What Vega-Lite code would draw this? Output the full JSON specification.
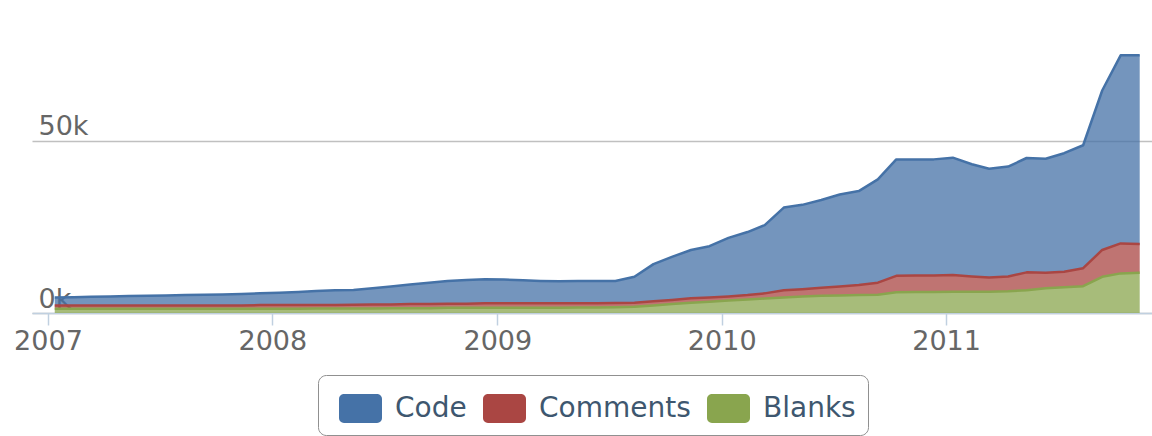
{
  "$schema": "https://vega.github.io/schema/vega-lite/v6.json",
  "width": 1120,
  "height": 310,
  "autosize": {"type": "none"},
  "padding": {"left": 32, "top": 3, "right": 0, "bottom": 123},
  "background": "white",
  "config": {"view": {"stroke": null}, "font": "DejaVu Sans"},
  "data": {"values": [
    {"date":"2007-01-12","series":"Code","lines":2300},{"date":"2007-01-12","series":"Comments","lines":1000},{"date":"2007-01-12","series":"Blanks","lines":1200},
    {"date":"2007-02-12","series":"Code","lines":2400},{"date":"2007-02-12","series":"Comments","lines":1000},{"date":"2007-02-12","series":"Blanks","lines":1200},
    {"date":"2007-03-12","series":"Code","lines":2500},{"date":"2007-03-12","series":"Comments","lines":1000},{"date":"2007-03-12","series":"Blanks","lines":1200},
    {"date":"2007-04-12","series":"Code","lines":2600},{"date":"2007-04-12","series":"Comments","lines":1000},{"date":"2007-04-12","series":"Blanks","lines":1200},
    {"date":"2007-05-12","series":"Code","lines":2700},{"date":"2007-05-12","series":"Comments","lines":1000},{"date":"2007-05-12","series":"Blanks","lines":1200},
    {"date":"2007-06-12","series":"Code","lines":2800},{"date":"2007-06-12","series":"Comments","lines":1000},{"date":"2007-06-12","series":"Blanks","lines":1200},
    {"date":"2007-07-12","series":"Code","lines":2900},{"date":"2007-07-12","series":"Comments","lines":1000},{"date":"2007-07-12","series":"Blanks","lines":1200},
    {"date":"2007-08-12","series":"Code","lines":3000},{"date":"2007-08-12","series":"Comments","lines":1000},{"date":"2007-08-12","series":"Blanks","lines":1200},
    {"date":"2007-09-12","series":"Code","lines":3100},{"date":"2007-09-12","series":"Comments","lines":1000},{"date":"2007-09-12","series":"Blanks","lines":1200},
    {"date":"2007-10-12","series":"Code","lines":3200},{"date":"2007-10-12","series":"Comments","lines":1000},{"date":"2007-10-12","series":"Blanks","lines":1200},
    {"date":"2007-11-12","series":"Code","lines":3300},{"date":"2007-11-12","series":"Comments","lines":1000},{"date":"2007-11-12","series":"Blanks","lines":1200},
    {"date":"2007-12-12","series":"Code","lines":3400},{"date":"2007-12-12","series":"Comments","lines":1100},{"date":"2007-12-12","series":"Blanks","lines":1200},
    {"date":"2008-01-12","series":"Code","lines":3600},{"date":"2008-01-12","series":"Comments","lines":1100},{"date":"2008-01-12","series":"Blanks","lines":1200},
    {"date":"2008-02-12","series":"Code","lines":3800},{"date":"2008-02-12","series":"Comments","lines":1100},{"date":"2008-02-12","series":"Blanks","lines":1200},
    {"date":"2008-03-12","series":"Code","lines":4100},{"date":"2008-03-12","series":"Comments","lines":1000},{"date":"2008-03-12","series":"Blanks","lines":1300},
    {"date":"2008-04-12","series":"Code","lines":4300},{"date":"2008-04-12","series":"Comments","lines":1000},{"date":"2008-04-12","series":"Blanks","lines":1300},
    {"date":"2008-05-12","series":"Code","lines":4300},{"date":"2008-05-12","series":"Comments","lines":1100},{"date":"2008-05-12","series":"Blanks","lines":1300},
    {"date":"2008-06-12","series":"Code","lines":4700},{"date":"2008-06-12","series":"Comments","lines":1200},{"date":"2008-06-12","series":"Blanks","lines":1300},
    {"date":"2008-07-12","series":"Code","lines":5200},{"date":"2008-07-12","series":"Comments","lines":1100},{"date":"2008-07-12","series":"Blanks","lines":1400},
    {"date":"2008-08-12","series":"Code","lines":5700},{"date":"2008-08-12","series":"Comments","lines":1200},{"date":"2008-08-12","series":"Blanks","lines":1400},
    {"date":"2008-09-12","series":"Code","lines":6200},{"date":"2008-09-12","series":"Comments","lines":1200},{"date":"2008-09-12","series":"Blanks","lines":1400},
    {"date":"2008-10-12","series":"Code","lines":6600},{"date":"2008-10-12","series":"Comments","lines":1200},{"date":"2008-10-12","series":"Blanks","lines":1500},
    {"date":"2008-11-12","series":"Code","lines":6900},{"date":"2008-11-12","series":"Comments","lines":1200},{"date":"2008-11-12","series":"Blanks","lines":1500},
    {"date":"2008-12-12","series":"Code","lines":7000},{"date":"2008-12-12","series":"Comments","lines":1300},{"date":"2008-12-12","series":"Blanks","lines":1500},
    {"date":"2009-01-12","series":"Code","lines":6900},{"date":"2009-01-12","series":"Comments","lines":1300},{"date":"2009-01-12","series":"Blanks","lines":1500},
    {"date":"2009-02-12","series":"Code","lines":6700},{"date":"2009-02-12","series":"Comments","lines":1300},{"date":"2009-02-12","series":"Blanks","lines":1500},
    {"date":"2009-03-12","series":"Code","lines":6500},{"date":"2009-03-12","series":"Comments","lines":1300},{"date":"2009-03-12","series":"Blanks","lines":1500},
    {"date":"2009-04-12","series":"Code","lines":6400},{"date":"2009-04-12","series":"Comments","lines":1300},{"date":"2009-04-12","series":"Blanks","lines":1500},
    {"date":"2009-05-12","series":"Code","lines":6500},{"date":"2009-05-12","series":"Comments","lines":1200},{"date":"2009-05-12","series":"Blanks","lines":1600},
    {"date":"2009-06-12","series":"Code","lines":6500},{"date":"2009-06-12","series":"Comments","lines":1200},{"date":"2009-06-12","series":"Blanks","lines":1600},
    {"date":"2009-07-12","series":"Code","lines":6400},{"date":"2009-07-12","series":"Comments","lines":1200},{"date":"2009-07-12","series":"Blanks","lines":1700},
    {"date":"2009-08-12","series":"Code","lines":7500},{"date":"2009-08-12","series":"Comments","lines":1200},{"date":"2009-08-12","series":"Blanks","lines":1800},
    {"date":"2009-09-12","series":"Code","lines":10800},{"date":"2009-09-12","series":"Comments","lines":1200},{"date":"2009-09-12","series":"Blanks","lines":2200},
    {"date":"2009-10-12","series":"Code","lines":12500},{"date":"2009-10-12","series":"Comments","lines":1200},{"date":"2009-10-12","series":"Blanks","lines":2600},
    {"date":"2009-11-12","series":"Code","lines":14000},{"date":"2009-11-12","series":"Comments","lines":1300},{"date":"2009-11-12","series":"Blanks","lines":3000},
    {"date":"2009-12-12","series":"Code","lines":14900},{"date":"2009-12-12","series":"Comments","lines":1200},{"date":"2009-12-12","series":"Blanks","lines":3300},
    {"date":"2010-01-12","series":"Code","lines":17000},{"date":"2010-01-12","series":"Comments","lines":1200},{"date":"2010-01-12","series":"Blanks","lines":3600},
    {"date":"2010-02-12","series":"Code","lines":18300},{"date":"2010-02-12","series":"Comments","lines":1300},{"date":"2010-02-12","series":"Blanks","lines":3900},
    {"date":"2010-03-12","series":"Code","lines":19800},{"date":"2010-03-12","series":"Comments","lines":1500},{"date":"2010-03-12","series":"Blanks","lines":4200},
    {"date":"2010-04-12","series":"Code","lines":24000},{"date":"2010-04-12","series":"Comments","lines":2100},{"date":"2010-04-12","series":"Blanks","lines":4500},
    {"date":"2010-05-12","series":"Code","lines":24500},{"date":"2010-05-12","series":"Comments","lines":2100},{"date":"2010-05-12","series":"Blanks","lines":4800},
    {"date":"2010-06-12","series":"Code","lines":25500},{"date":"2010-06-12","series":"Comments","lines":2300},{"date":"2010-06-12","series":"Blanks","lines":5000},
    {"date":"2010-07-12","series":"Code","lines":26700},{"date":"2010-07-12","series":"Comments","lines":2600},{"date":"2010-07-12","series":"Blanks","lines":5100},
    {"date":"2010-08-12","series":"Code","lines":27300},{"date":"2010-08-12","series":"Comments","lines":2900},{"date":"2010-08-12","series":"Blanks","lines":5200},
    {"date":"2010-09-12","series":"Code","lines":30000},{"date":"2010-09-12","series":"Comments","lines":3500},{"date":"2010-09-12","series":"Blanks","lines":5300},
    {"date":"2010-10-12","series":"Code","lines":33800},{"date":"2010-10-12","series":"Comments","lines":4800},{"date":"2010-10-12","series":"Blanks","lines":6000},
    {"date":"2010-11-12","series":"Code","lines":33700},{"date":"2010-11-12","series":"Comments","lines":4800},{"date":"2010-11-12","series":"Blanks","lines":6100},
    {"date":"2010-12-12","series":"Code","lines":33700},{"date":"2010-12-12","series":"Comments","lines":4800},{"date":"2010-12-12","series":"Blanks","lines":6100},
    {"date":"2011-01-12","series":"Code","lines":34100},{"date":"2011-01-12","series":"Comments","lines":4800},{"date":"2011-01-12","series":"Blanks","lines":6200},
    {"date":"2011-02-12","series":"Code","lines":32600},{"date":"2011-02-12","series":"Comments","lines":4400},{"date":"2011-02-12","series":"Blanks","lines":6200},
    {"date":"2011-03-12","series":"Code","lines":31600},{"date":"2011-03-12","series":"Comments","lines":4100},{"date":"2011-03-12","series":"Blanks","lines":6200},
    {"date":"2011-04-12","series":"Code","lines":31900},{"date":"2011-04-12","series":"Comments","lines":4300},{"date":"2011-04-12","series":"Blanks","lines":6300},
    {"date":"2011-05-12","series":"Code","lines":33200},{"date":"2011-05-12","series":"Comments","lines":5200},{"date":"2011-05-12","series":"Blanks","lines":6600},
    {"date":"2011-06-12","series":"Code","lines":33100},{"date":"2011-06-12","series":"Comments","lines":4500},{"date":"2011-06-12","series":"Blanks","lines":7200},
    {"date":"2011-07-12","series":"Code","lines":34400},{"date":"2011-07-12","series":"Comments","lines":4500},{"date":"2011-07-12","series":"Blanks","lines":7500},
    {"date":"2011-08-12","series":"Code","lines":35700},{"date":"2011-08-12","series":"Comments","lines":5200},{"date":"2011-08-12","series":"Blanks","lines":7800},
    {"date":"2011-09-12","series":"Code","lines":46300},{"date":"2011-09-12","series":"Comments","lines":7800},{"date":"2011-09-12","series":"Blanks","lines":10500},
    {"date":"2011-10-12","series":"Code","lines":54600},{"date":"2011-10-12","series":"Comments","lines":8700},{"date":"2011-10-12","series":"Blanks","lines":11500},
    {"date":"2011-11-12","series":"Code","lines":54800},{"date":"2011-11-12","series":"Comments","lines":8300},{"date":"2011-11-12","series":"Blanks","lines":11700}
  ]},
  "transform": [
    {"calculate": "indexof(['Blanks','Comments','Code'], datum.series)", "as": "stackOrder"}
  ],
  "mark": {
    "type": "area",
    "interpolate": "linear",
    "fillOpacity": 0.75,
    "line": {"strokeWidth": 2.5, "strokeJoin": "round"}
  },
  "encoding": {
    "x": {
      "field": "date",
      "type": "temporal",
      "scale": {
        "type": "utc",
        "domain": [
          {"year": 2006, "month": 12, "date": 6, "utc": true},
          {"year": 2011, "month": 12, "date": 2, "utc": true}
        ]
      },
      "axis": {
        "title": null,
        "values": [
          {"year": 2007, "month": 1, "date": 1, "utc": true},
          {"year": 2008, "month": 1, "date": 1, "utc": true},
          {"year": 2009, "month": 1, "date": 1, "utc": true},
          {"year": 2010, "month": 1, "date": 1, "utc": true},
          {"year": 2011, "month": 1, "date": 1, "utc": true}
        ],
        "labelExpr": "utcFormat(datum.value, '%Y')",
        "grid": false,
        "domainColor": "#C0D0E0",
        "domainWidth": 1.5,
        "tickColor": "#C0D0E0",
        "tickWidth": 1.5,
        "tickSize": 12,
        "labelPadding": 3,
        "labelFontSize": 27,
        "labelColor": "#666666",
        "labelFlush": false,
        "labelOverlap": false
      }
    },
    "y": {
      "field": "lines",
      "type": "quantitative",
      "stack": "zero",
      "scale": {"domain": [0, 90000], "nice": false},
      "axis": {
        "title": null,
        "values": [0, 50000],
        "labelExpr": "(datum.value / 1000) + 'k'",
        "grid": true,
        "gridColor": "#C0C0C0",
        "gridWidth": 1.5,
        "domain": false,
        "ticks": false,
        "tickSize": 0,
        "labelAlign": "left",
        "labelBaseline": "alphabetic",
        "labelPadding": -6,
        "labelOffset": -6,
        "labelFontSize": 27,
        "labelColor": "#666666"
      }
    },
    "color": {
      "field": "series",
      "type": "nominal",
      "scale": {
        "domain": ["Code", "Comments", "Blanks"],
        "range": ["#4572A7", "#AA4643", "#89A54E"]
      },
      "legend": {
        "title": null,
        "orient": "none",
        "legendX": 286,
        "legendY": 372,
        "direction": "horizontal",
        "symbolType": "M-0.77,-0.674 H0.77 A0.23,0.23 0 0 1 1,-0.444 V0.444 A0.23,0.23 0 0 1 0.77,0.674 H-0.77 A0.23,0.23 0 0 1 -1,0.444 V-0.444 A0.23,0.23 0 0 1 -0.77,-0.674 Z",
        "symbolSize": 1849,
        "symbolOpacity": 1,
        "symbolStrokeWidth": 0,
        "symbolOffset": 9,
        "labelFontSize": 28,
        "labelColor": "#3E576F",
        "labelOffset": 13,
        "columnPadding": 7,
        "padding": 12,
        "strokeColor": "#909090",
        "cornerRadius": 8,
        "fillColor": "white",
        "labelLimit": 0
      }
    },
    "order": {"field": "stackOrder", "type": "quantitative"}
  }
}
